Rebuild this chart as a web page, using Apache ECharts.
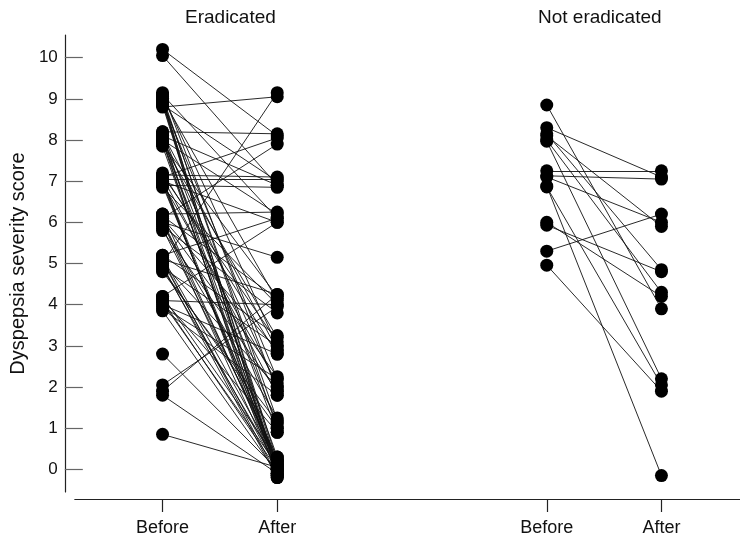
<!DOCTYPE html>
<html><head><meta charset="utf-8">
<script src="https://cdn.jsdelivr.net/npm/echarts@6/dist/echarts.min.js"></script>
<style>html,body{margin:0;padding:0;background:#fff}#c{width:740px;height:537px}</style>
</head><body><div id="c"></div>
<script>
// ---- data ----
const groupNames = ['Eradicated', 'Not eradicated'];
const timeLabels = ['Before', 'After'];
const yTickValues = [0, 1, 2, 3, 4, 5, 6, 7, 8, 9, 10];

const eradBefore = [
  10.2, 10.05,
  8.8, 8.85, 9.1, 9.0, 8.9, 9.15, 9.05, 8.95, 8.85, 9.1, 8.9, 9.0, 9.0, 8.95,
  8.2, 8.1, 8.0, 7.9, 8.15, 8.05, 7.95, 7.85, 8.1, 8.0, 7.9, 8.2, 8.1, 7.95,
  7.15, 7.05, 6.9, 7.1, 7.0, 6.85, 7.2, 7.1, 7.0, 6.9, 7.05, 6.95, 7.15, 7.05, 6.95,
  6.2, 6.1, 6.0, 5.9, 6.15, 6.05, 5.95, 5.85, 6.2, 6.0, 5.8, 6.1, 6.05,
  5.0, 5.2, 5.1, 4.9, 5.0, 4.85, 5.15, 5.05, 4.95, 4.8, 5.2, 5.1, 4.9,
  4.2, 4.1, 4.0, 3.9, 4.15, 4.05, 3.85, 3.95, 4.2, 4.1,
  2.8, 2.05, 1.9, 1.8, 0.85
];
const eradAfter = [
  8.1, 6.9,
  9.05, 7.0, 6.1, 4.1, 2.2, 1.9, 1.0, 0.2, 0.0, 3.0, -0.1, 1.2, 0.1, -0.15,
  8.15, 6.9, 6.2, 4.2, 2.9, 2.0, 1.1, 0.1, 0.3, -0.2, 3.2, 0.9, 0.0, -0.1,
  7.1, 7.05, 6.85, 8.05, 6.0, 4.0, 2.8, 1.8, 0.0, 0.2, -0.15, 2.1, 3.1, 0.15, 0.05,
  6.25, 7.9, 5.15, 3.8, 4.15, 2.25, 1.25, 0.3, 0.1, -0.05, 1.9, 2.9, 0.2,
  9.15, 6.1, 4.25, 3.0, 2.0, 1.0, 0.2, 0.0, -0.2, 1.15, 3.25, -0.15, 0.1,
  6.0, 4.0, 2.8, 1.8, 0.9, 0.1, -0.1, 2.2, 0.25, 0.0,
  0.0, 3.95, 4.25, -0.1, 0.05
];
const notBefore = [8.85, 8.3, 8.15, 8.0, 7.97, 7.25, 7.13, 6.86, 6.88, 6.0, 5.93, 5.3, 4.96, 7.1, 8.1];
const notAfter  = [3.9, 7.1, 4.85, 4.3, 2.2, 7.25, 7.05, 2.05, -0.15, 4.2, 4.8, 6.2, 1.9, 6.0, 5.9];

// ---- layout (axis coordinates of the four columns) ----
const slots = [1, 2, 4.35, 5.35];

function pairs(before, after, sb, sa) {
  return before.map((b, i) => ({ coords: [[sb, b], [sa, after[i]]] }));
}
function pts(vals, s) { return vals.map(v => [s, v]); }

const FONT = 'Liberation Sans';
const chart = echarts.init(document.getElementById('c'), null, { renderer: 'canvas' });
chart.setOption({
  animation: false,
  backgroundColor: '#fff',
  grid: { left: 73, right: 0, top: 35, bottom: 42 },
  xAxis: {
    type: 'value', min: 0.235, max: 6.035, offset: 7,
    splitLine: { show: false },
    axisLine: { show: true, onZero: false, lineStyle: { color: '#222', width: 1.2 } },
    axisTick: { show: true, customValues: slots, length: 13, lineStyle: { color: '#222', width: 1.2 } },
    axisLabel: {
      customValues: slots, margin: 20, fontSize: 18, color: '#111', fontFamily: FONT,
      formatter: v => { const i = slots.indexOf(v); return i >= 0 ? timeLabels[i % 2] : ''; }
    }
  },
  yAxis: {
    type: 'value', min: -0.55, max: 10.55, offset: 10,
    name: 'Dyspepsia severity score', nameLocation: 'middle', nameGap: 31,
    nameTextStyle: { fontSize: 20, color: '#111', fontFamily: FONT },
    splitLine: { show: false },
    axisLine: { show: true, onZero: false, lineStyle: { color: '#222', width: 1.2 } },
    axisTick: { show: true, inside: true, length: 18, customValues: yTickValues, lineStyle: { color: '#666', width: 1.2 } },
    axisLabel: { customValues: yTickValues, margin: 7, fontSize: 17, color: '#111', fontFamily: FONT }
  },
  graphic: [
    { type: 'text', left: 185, top: 8, style: { text: groupNames[0], fontSize: 19, fontFamily: FONT, fill: '#111' } },
    { type: 'text', left: 538, top: 8, style: { text: groupNames[1], fontSize: 19, fontFamily: FONT, fill: '#111' } }
  ],
  series: [
    {
      type: 'lines', coordinateSystem: 'cartesian2d', z: 1,
      lineStyle: { color: '#111', width: 0.9, opacity: 1 },
      data: pairs(eradBefore, eradAfter, slots[0], slots[1]).concat(pairs(notBefore, notAfter, slots[2], slots[3]))
    },
    {
      type: 'scatter', z: 3, symbolSize: 13, itemStyle: { color: '#000', opacity: 1 },
      data: pts(eradBefore, slots[0]).concat(pts(eradAfter, slots[1]), pts(notBefore, slots[2]), pts(notAfter, slots[3]))
    }
  ]
});
</script></body></html>
